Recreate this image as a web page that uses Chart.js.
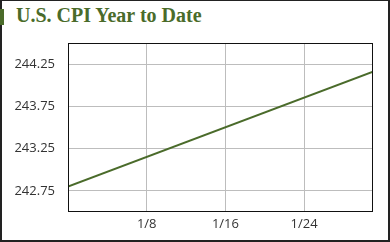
<!DOCTYPE html>
<html>
<head>
<meta charset="utf-8">
<script src="https://cdn.jsdelivr.net/npm/chart.js@4"></script>
<style>
  html, body { margin: 0; padding: 0; background: #fff; }
  #frame {
    position: absolute; left: 0; top: 0; width: 390px; height: 242px;
    box-sizing: border-box; border: 2px solid #222; border-top-width: 1px;
  }
  #bar { position: absolute; left: 0; top: 9px; width: 4px; height: 16px; background: #4a6b2a; }
  #title {
    position: absolute; left: 16px; top: 4px; font-family: "Liberation Serif", serif;
    font-weight: bold; font-size: 20px; color: #4a6b2a; white-space: nowrap;
  }
  #chart { position: absolute; left: 0; top: 0; }
</style>
</head>
<body>
<div id="frame"></div>
<div id="bar"></div>
<div id="title">U.S. CPI Year to Date</div>
<canvas id="chart" width="390" height="242"></canvas>
<script>
// day of January (0 = Dec 31) and CPI value
const days = [0, 31];
const cpiValues = [242.80, 244.16];
const xTickDays = [8, 16, 24];
const xTickLabels = ["1/8", "1/16", "1/24"];
const yTickValues = [242.75, 243.25, 243.75, 244.25];

const lineColor = "#4a6b2a";

const plotBorder = {
  id: "plotBorder",
  afterDraw(chart) {
    const { ctx, chartArea } = chart;
    ctx.save();
    ctx.strokeStyle = "#111";
    ctx.lineWidth = 1;
    ctx.strokeRect(chartArea.left + 0.5, chartArea.top + 0.5,
      chartArea.right - chartArea.left - 1, chartArea.bottom - chartArea.top - 1);
    ctx.restore();
  },
};

new Chart(document.getElementById("chart"), {
  type: "line",
  data: {
    datasets: [
      {
        data: days.map((d, i) => ({ x: d, y: cpiValues[i] })),
        borderColor: lineColor,
        borderWidth: 2,
        pointRadius: 0,
        tension: 0,
        fill: false,
      },
    ],
  },
  options: {
    responsive: false,
    animation: false,
    layout: { padding: { top: 43, right: 17, bottom: 0, left: 0 } },
    plugins: { legend: { display: false }, tooltip: { enabled: false } },
    scales: {
      x: {
        type: "linear",
        min: 0,
        max: 31,
        afterBuildTicks: (axis) => {
          axis.ticks = xTickDays.map((v) => ({ value: v }));
        },
        afterFit: (axis) => { axis.height = 30; },
        ticks: {
          callback: (v) => xTickLabels[xTickDays.indexOf(v)],
          color: "#333",
          font: { family: "Open Sans", size: 13 },
          padding: 4,
          maxRotation: 0,
        },
        grid: { color: "#bdbdbd", drawTicks: false },
        border: { display: false },
      },
      y: {
        min: 242.5,
        max: 244.5,
        afterBuildTicks: (axis) => {
          axis.ticks = yTickValues.map((v) => ({ value: v }));
        },
        afterFit: (axis) => { axis.width = 68; },
        ticks: {
          callback: (v) => v.toFixed(2),
          color: "#333",
          font: { family: "Open Sans", size: 13 },
          padding: 13,
        },
        grid: { color: "#bdbdbd", drawTicks: false },
        border: { display: false },
      },
    },
  },
  plugins: [plotBorder],
});
</script>
</body>
</html>
